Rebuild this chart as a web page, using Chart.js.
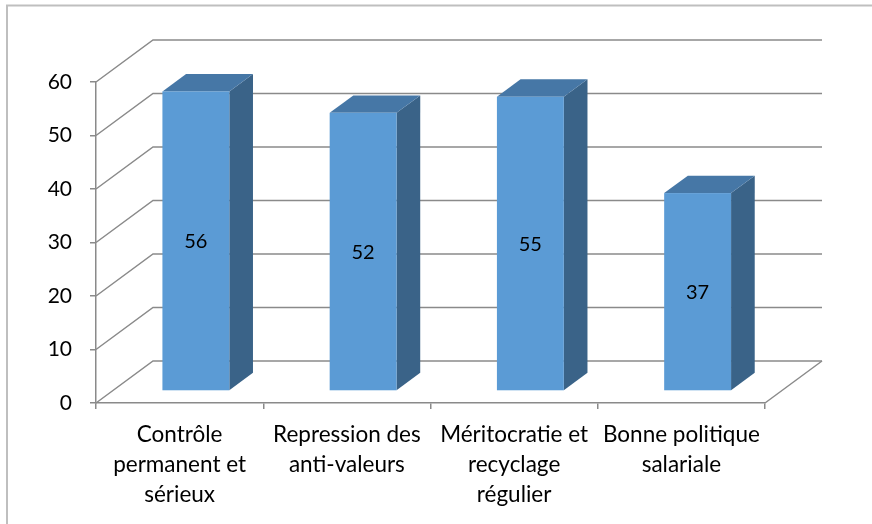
<!DOCTYPE html>
<html>
<head>
<meta charset="utf-8">
<script src="https://cdn.jsdelivr.net/npm/chart.js@4.4.1/dist/chart.umd.min.js"></script>
<style>
  html, body { margin: 0; padding: 0; background: #ffffff; }
  #wrap { width: 872px; height: 524px; position: relative; }
</style>
</head>
<body>
<div id="wrap"><canvas id="c" width="872" height="524"></canvas></div>
<script>
// ---- data ----
const categories = [
  ["Contrôle", "permanent et", "sérieux"],
  ["Repression des", "anti-valeurs"],
  ["Méritocratie et", "recyclage", "régulier"],
  ["Bonne politique", "salariale"]
];
const values = [56, 52, 55, 37];
const yMin = 0;
const yMax = 60;
const yStep = 10;

// ---- style ----
const FONT = "Lato, 'Open Sans', sans-serif";
const GRID = "#8a8a8a";
const FRONT = "#5b9bd5";
const TOP = "#4677a6";
const SIDE = "#3a6388";
const DEPTH_X = 57, DEPTH_Y = -42;   // floor depth (front plane to back wall)
const BAR_F1 = 0.285, BAR_F2 = 0.70;  // bar front / back depth fractions

const framePlugin = {
  id: 'frame',
  beforeDraw(chart) {
    const ctx = chart.ctx;
    ctx.save();
    ctx.strokeStyle = "#bfbfbf";
    ctx.lineWidth = 2;
    ctx.beginPath();
    ctx.moveTo(7, chart.height);
    ctx.lineTo(7, 5.5);
    ctx.lineTo(chart.width, 5.5);
    ctx.stroke();
    ctx.restore();
  }
};

const wallsPlugin = {
  id: 'walls',
  beforeDatasetsDraw(chart) {
    const ctx = chart.ctx, a = chart.chartArea, y = chart.scales.y;
    ctx.save();
    ctx.strokeStyle = GRID;
    ctx.lineWidth = 1.5;
    y.ticks.forEach(t => {
      const yf = y.getPixelForValue(t.value);
      ctx.beginPath();
      ctx.moveTo(a.left, yf);
      ctx.lineTo(a.left + DEPTH_X, yf + DEPTH_Y);
      ctx.lineTo(a.right + DEPTH_X, yf + DEPTH_Y);
      ctx.stroke();
    });
    ctx.beginPath();
    ctx.moveTo(a.right, y.getPixelForValue(yMin));
    ctx.lineTo(a.right + DEPTH_X, y.getPixelForValue(yMin) + DEPTH_Y);
    ctx.stroke();
    ctx.restore();
  }
};

const bars3dPlugin = {
  id: 'bars3d',
  afterDatasetsDraw(chart) {
    const ctx = chart.ctx;
    const meta = chart.getDatasetMeta(0);
    const ox = BAR_F1 * DEPTH_X, oy = BAR_F1 * DEPTH_Y;
    const dx = (BAR_F2 - BAR_F1) * DEPTH_X, dy = (BAR_F2 - BAR_F1) * DEPTH_Y;
    ctx.save();
    meta.data.forEach((el, i) => {
      const p = el.getProps(['x', 'y', 'base', 'width'], true);
      const l = p.x - p.width / 2 + ox, r = p.x + p.width / 2 + ox;
      const t = p.y + oy, b = p.base + oy;
      // side face
      ctx.fillStyle = SIDE;
      ctx.beginPath();
      ctx.moveTo(r, t); ctx.lineTo(r + dx, t + dy); ctx.lineTo(r + dx, b + dy); ctx.lineTo(r, b);
      ctx.closePath(); ctx.fill();
      // top face
      ctx.fillStyle = TOP;
      ctx.beginPath();
      ctx.moveTo(l, t); ctx.lineTo(l + dx, t + dy); ctx.lineTo(r + dx, t + dy); ctx.lineTo(r, t);
      ctx.closePath(); ctx.fill();
      // front face
      ctx.fillStyle = FRONT;
      ctx.fillRect(l, t, r - l, b - t);
      // value label
      ctx.fillStyle = "#000000";
      ctx.font = "20px " + FONT;
      ctx.textAlign = "center";
      ctx.textBaseline = "middle";
      ctx.fillText(String(values[i]), (l + r) / 2, (t + b) / 2 + 1);
    });
    ctx.restore();
  }
};

new Chart(document.getElementById('c'), {
  type: 'bar',
  data: {
    labels: categories,
    datasets: [{
      data: values,
      backgroundColor: 'rgba(0,0,0,0)',
      borderWidth: 0,
      categoryPercentage: 0.4,
      barPercentage: 1.0
    }]
  },
  options: {
    responsive: false,
    animation: false,
    events: [],
    layout: { padding: { left: 0, top: 82, right: 107, bottom: 0 } },
    plugins: { legend: { display: false }, tooltip: { enabled: false } },
    scales: {
      x: {
        offset: true,
        afterFit(s) { s.height = 121; },
        grid: { drawOnChartArea: false, drawTicks: true, tickLength: 6, color: GRID, lineWidth: 1.5, offset: true },
        border: { display: true, color: GRID, width: 1.5 },
        ticks: { color: '#000', padding: 11, maxRotation: 0, autoSkip: false,
                 font: { family: FONT, size: 22.5, lineHeight: 1.33 } }
      },
      y: {
        min: yMin, max: yMax,
        afterFit(s) { s.width = 96; },
        grid: { drawOnChartArea: false, drawTicks: true, tickLength: 6, color: GRID, lineWidth: 1.5 },
        border: { display: true, color: GRID, width: 1.5 },
        ticks: { stepSize: yStep, color: '#000', padding: 18,
                 font: { family: FONT, size: 21 } }
      }
    }
  },
  plugins: [framePlugin, wallsPlugin, bars3dPlugin]
});
</script>
</body>
</html>
